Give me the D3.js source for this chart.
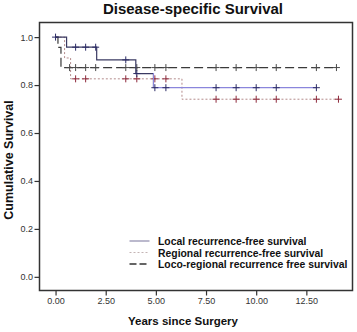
<!DOCTYPE html>
<html>
<head>
<meta charset="utf-8">
<script src="https://cdn.jsdelivr.net/npm/d3@7"></script>
<style>
  body { margin: 0; background: #fff; }
  svg { display: block; font-family: "Liberation Sans", Arial, sans-serif; }
</style>
</head>
<body>
<div id="chart"></div>
<script>
// Kaplan-Meier steps: [time in years, survival]
const localSteps = [[0, 1.0], [0.55, 0.958], [2.05, 0.905], [4.0, 0.848], [4.88, 0.789]];
const localEnd = 13.0;
const localCensor = [0, 1.0, 1.5, 2.0, 3.5, 4.05, 4.95, 5.5, 8, 9, 10, 11, 13.0];

const regionalSteps = [[0, 1.0], [0.45, 0.913], [0.75, 0.826], [6.3, 0.741]];
const regionalEnd = 14.1;
const regionalCensor = [1.0, 1.5, 3.5, 4.05, 4.95, 5.5, 8, 9, 10, 11, 13.0, 14.1];

const locoSteps = [[0, 1.0], [0.12, 0.957], [0.27, 0.873]];
const locoEnd = 14.0;
const locoCensor = [0.7, 1.0, 1.5, 2.0, 3.5, 4.05, 4.95, 5.5, 8, 9, 10, 11, 13.0, 14.0];

const xTicks = [0, 2.5, 5, 7.5, 10, 12.5];
const yTicks = [0, 0.2, 0.4, 0.6, 0.8, 1.0];
const legendLabels = ["Local recurrence-free survival", "Regional recurrence-free survival", "Loco-regional recurrence free survival"];

const width = 357, height = 332;
const plotL = 39.5, plotR = 352.5, plotT = 22.5, plotB = 290.5;

const svg = d3.select("#chart").append("svg")
    .attr("width", width)
    .attr("height", height);

const x = d3.scaleLinear().domain([-0.8, 14.8]).range([plotL, plotR]);
const y = d3.scaleLinear().domain([-0.057, 1.061]).range([plotB, plotT]);

// title
svg.append("text")
    .attr("x", 193).attr("y", 14)
    .attr("text-anchor", "middle")
    .attr("font-size", 15).attr("font-weight", "bold")
    .attr("fill", "#111")
    .text("Disease-specific Survival");

// axes
const yAxis = svg.append("g")
    .attr("transform", `translate(${plotL},0)`)
    .call(d3.axisLeft(y).tickValues(yTicks).tickFormat(d3.format(".1f")).tickSize(5).tickPadding(1.5));
const xAxis = svg.append("g")
    .attr("transform", `translate(0,${plotB})`)
    .call(d3.axisBottom(x).tickValues(xTicks).tickFormat(d3.format(".2f")).tickSize(5).tickPadding(2));
[yAxis, xAxis].forEach(g => {
    g.select(".domain").remove();
    g.selectAll("line").attr("stroke", "#333").attr("stroke-width", 1.2);
    g.selectAll("text").attr("font-size", 9).attr("fill", "#333")
        .attr("font-family", "'Liberation Sans', Arial, sans-serif");
});

// frame
svg.append("rect")
    .attr("x", plotL).attr("y", plotT)
    .attr("width", plotR - plotL).attr("height", plotB - plotT)
    .attr("fill", "none").attr("stroke", "#333").attr("stroke-width", 1.5);

// axis labels
svg.append("text")
    .attr("x", 183).attr("y", 325)
    .attr("text-anchor", "middle")
    .attr("font-size", 11.5).attr("font-weight", "bold").attr("fill", "#111")
    .text("Years since Surgery");
svg.append("text")
    .attr("transform", "translate(13.3,160) rotate(-90)")
    .attr("text-anchor", "middle")
    .attr("font-size", 12.5).attr("font-weight", "bold").attr("fill", "#111")
    .text("Cumulative Survival");

// gradient for local curve (dark early, lavender later)
const grad = svg.append("defs").append("linearGradient")
    .attr("id", "localGrad")
    .attr("gradientUnits", "userSpaceOnUse")
    .attr("x1", x(0)).attr("x2", x(14)).attr("y1", 0).attr("y2", 0);
const split = (4.85 - 0) / 14;
grad.append("stop").attr("offset", split).attr("stop-color", "#3a3a62");
grad.append("stop").attr("offset", split).attr("stop-color", "#8a86dc");

const stepLine = d3.line().x(d => x(d[0])).y(d => y(d[1])).curve(d3.curveStepAfter);

function kmPoints(steps, end) {
    return steps.concat([[end, steps[steps.length - 1][1]]]);
}
function survAt(steps, t) {
    let s = steps[0][1];
    steps.forEach(d => { if (d[0] <= t) s = d[1]; });
    return s;
}

const curves = [
    { steps: regionalSteps, end: regionalEnd, censor: regionalCensor, stroke: "#b48c8c", dash: "2,2", width: 1, cross: "#8e2a3c" },
    { steps: locoSteps, end: locoEnd, censor: locoCensor, stroke: "#3a3a3a", dash: "9,4", width: 1.2, cross: "#4a4a4a" },
    { steps: localSteps, end: localEnd, censor: localCensor, stroke: "url(#localGrad)", dash: null, width: 1.2, cross: "#2c2c66" }
];

curves.forEach(c => {
    svg.append("path")
        .datum(kmPoints(c.steps, c.end))
        .attr("d", stepLine)
        .attr("fill", "none")
        .attr("stroke", c.stroke)
        .attr("stroke-width", c.width)
        .attr("stroke-dasharray", c.dash);

    const g = svg.append("g").selectAll("g")
        .data(c.censor)
        .join("g")
        .attr("transform", t => `translate(${x(t)},${y(survAt(c.steps, t))})`)
        .attr("stroke", c.cross)
        .attr("stroke-width", 1);
    g.append("line").attr("x1", -3.5).attr("x2", 3.5);
    g.append("line").attr("y1", -3.5).attr("y2", 3.5);
});

// legend
const legendStyles = [
    { stroke: "#a4a2bc", dash: null, width: 1.5 },
    { stroke: "#c4b4b4", dash: "2,2", width: 1 },
    { stroke: "#333", dash: "7,3", width: 1.5 }
];
const legendY = d3.scalePoint().domain(legendLabels).range([241, 264]);
const lg = svg.append("g").selectAll("g")
    .data(legendLabels)
    .join("g")
    .attr("transform", d => `translate(0,${legendY(d)})`);
lg.append("line")
    .attr("x1", 129.5).attr("x2", 149.5)
    .attr("stroke", (d, i) => legendStyles[i].stroke)
    .attr("stroke-width", (d, i) => legendStyles[i].width)
    .attr("stroke-dasharray", (d, i) => legendStyles[i].dash);
lg.append("text")
    .attr("x", 158).attr("y", 4)
    .attr("font-size", 10.4).attr("font-weight", "bold").attr("fill", "#111")
    .text(d => d);
</script>
</body>
</html>
